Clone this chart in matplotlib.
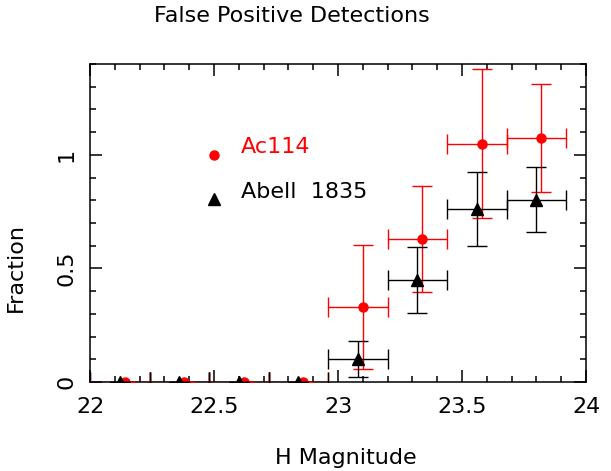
import matplotlib
matplotlib.use('Agg')
import matplotlib.pyplot as plt
from matplotlib.ticker import MultipleLocator

plt.rcParams['font.family'] = ['DejaVu Sans']
plt.rcParams['font.size'] = 16

# bins in H magnitude
mag_lo = [22.00, 22.24, 22.48, 22.72, 22.96, 23.20, 23.44, 23.68]
mag_hi = [22.24, 22.48, 22.72, 22.96, 23.20, 23.44, 23.68, 23.92]

# Ac114 (red circles), plotted slightly right of the bin centre
ac114_mag = [22.14, 22.38, 22.62, 22.86, 23.10, 23.34, 23.58, 23.82]
ac114_frac = [0.0, 0.0, 0.0, 0.0, 0.331, 0.629, 1.048, 1.075]
ac114_err = [0.0, 0.0, 0.0, 0.0, 0.272, 0.233, 0.328, 0.239]

# Abell 1835 (black triangles)
a1835_mag = [22.12, 22.36, 22.60, 22.84, 23.08, 23.32, 23.56, 23.80]
a1835_frac = [0.0, 0.0, 0.0, 0.0, 0.102, 0.448, 0.762, 0.803]
a1835_err = [0.0, 0.0, 0.0, 0.0, 0.078, 0.145, 0.162, 0.143]

W, H = 611, 471
fig = plt.figure(figsize=(W / 100, H / 100), dpi=100)
ax = fig.add_axes([90 / W, 1 - 382 / H, 496 / W, 318 / H])


def xerr_of(xs):
    lo = [x - a for x, a in zip(xs, mag_lo)]
    hi = [b - x for x, b in zip(xs, mag_hi)]
    return [lo, hi]


ax.errorbar(ac114_mag, ac114_frac, yerr=ac114_err, xerr=xerr_of(ac114_mag),
            fmt='o', color='red', ms=6.5, elinewidth=1.0, capsize=7.5,
            capthick=1.0, zorder=3)
ax.errorbar(a1835_mag, a1835_frac, yerr=a1835_err, xerr=xerr_of(a1835_mag),
            fmt='^', color='black', ms=9, elinewidth=1.0, capsize=7.5,
            capthick=1.0, zorder=4)

# legend drawn by hand, as in the original
ax.plot([22.5], [1.0], 'o', color='red', ms=6.5)
ax.plot([22.5], [0.805], '^', color='black', ms=9)
ax.text(22.61, 1.035, 'Ac114', color='red', va='center', ha='left')
ax.text(22.61, 0.835, 'Abell  1835', color='black', va='center', ha='left')

ax.set_xlim(22, 24)
ax.set_ylim(0, 1.4)
ax.xaxis.set_major_locator(MultipleLocator(0.5))
ax.xaxis.set_minor_locator(MultipleLocator(0.1))
ax.yaxis.set_major_locator(MultipleLocator(0.5))
ax.yaxis.set_minor_locator(MultipleLocator(0.1))
ax.xaxis.set_major_formatter(plt.FuncFormatter(lambda v, p: f'{v:g}'))
ax.yaxis.set_major_formatter(plt.FuncFormatter(lambda v, p: f'{v:g}'))

ax.tick_params(which='both', direction='in', top=True, right=True, width=1.1)
ax.tick_params(which='major', length=8.6)
ax.tick_params(which='minor', length=4.3)
ax.tick_params(axis='x', pad=11)
ax.tick_params(axis='y', pad=10)
for lab in ax.get_yticklabels():
    lab.set_rotation(90)
    lab.set_va('center')
for sp in ax.spines.values():
    sp.set_linewidth(1.1)

fig.text(292 / W, 1 - 16 / H, 'False Positive Detections', ha='center', va='center')
fig.text(346 / W, 1 - 458 / H, 'H Magnitude', ha='center', va='center')
fig.text(16 / W, 1 - 268 / H, 'Fraction', ha='center', va='center', rotation=90)

fig.savefig('out.png', dpi=100)
